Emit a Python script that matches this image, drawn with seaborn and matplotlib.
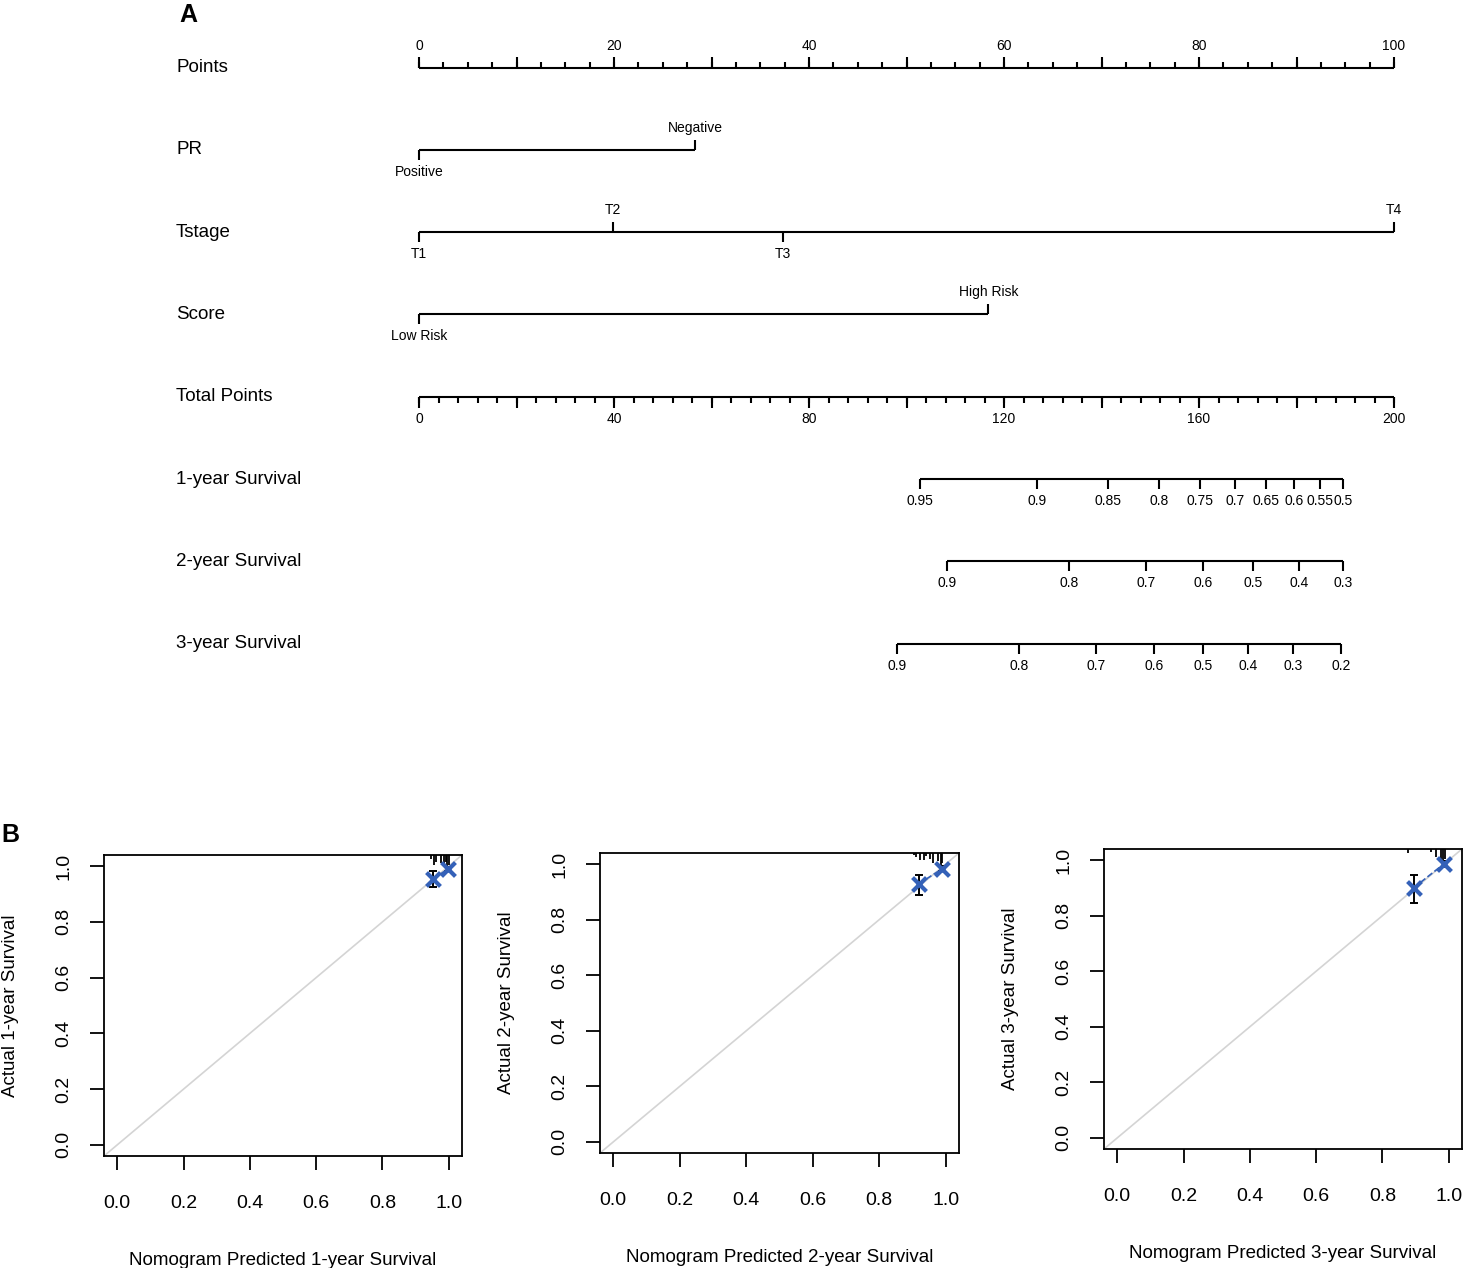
import matplotlib.pyplot as plt
import matplotlib.transforms as mtransforms
import numpy as np
import seaborn as sns

# ---- nomogram scales (values in "points") ----
points_major = np.arange(0, 101, 10)
points_labels = np.arange(0, 101, 20)
points_minor = np.arange(0, 100.1, 2.5)

pr_levels = ["Positive", "Negative"]
pr_points = [0, 28.3]
tstage_levels = ["T1", "T2", "T3", "T4"]
tstage_points = [0, 19.9, 37.3, 100]
score_levels = ["Low Risk", "High Risk"]
score_points = [0, 58.4]

total_major = np.arange(0, 201, 20)
total_labels = np.arange(0, 201, 40)
total_minor = np.arange(0, 200.1, 4)

# survival scales, positions in total points
surv1_labels = ["0.95", "0.9", "0.85", "0.8", "0.75", "0.7", "0.65", "0.6", "0.55", "0.5"]
surv1_total = [102.8, 126.8, 141.3, 151.8, 160.2, 167.4, 173.7, 179.5, 184.8, 189.5]
surv2_labels = ["0.9", "0.8", "0.7", "0.6", "0.5", "0.4", "0.3"]
surv2_total = [108.3, 133.3, 149.1, 160.8, 171.1, 180.5, 189.5]
surv3_labels = ["0.9", "0.8", "0.7", "0.6", "0.5", "0.4", "0.3", "0.2"]
surv3_total = [98.1, 123.1, 138.9, 150.8, 160.8, 170.1, 179.3, 189.1]

# ---- calibration curves ----
years = ["1-year", "2-year", "3-year"]
pred = {"1-year": [0.952, 0.997], "2-year": [0.919, 0.988], "3-year": [0.894, 0.985]}
obs = {"1-year": [0.954, 0.989], "2-year": [0.929, 0.982], "3-year": [0.900, 0.986]}
obs_lo = {"1-year": [0.925, 0.981], "2-year": [0.889, 0.975], "3-year": [0.846, 0.975]}
obs_hi = {"1-year": [0.982, 0.998], "2-year": [0.961, 0.995], "3-year": [0.946, 0.998]}
rug_x = {"1-year": [0.946, 0.956, 0.962, 0.978, 0.986, 0.991, 0.996, 1.0],
         "2-year": [0.904, 0.912, 0.922, 0.934, 0.941, 0.952, 0.962, 0.976, 0.985, 0.99],
         "3-year": [0.876, 0.946, 0.962, 0.978, 0.984, 0.99]}
rug_h = {"1-year": [0.015, 0.035, 0.025, 0.03, 0.04, 0.025, 0.05, 0.035],
         "2-year": [0.008, 0.015, 0.025, 0.025, 0.012, 0.02, 0.035, 0.03, 0.045, 0.035],
         "3-year": [0.015, 0.01, 0.03, 0.035, 0.045, 0.035]}

sns.set_style("white")
plt.rcParams['font.family'] = ['Liberation Sans', 'DejaVu Sans']
plt.rcParams['text.color'] = 'black'
plt.rcParams['axes.labelcolor'] = 'black'
plt.rcParams['xtick.color'] = 'black'
plt.rcParams['ytick.color'] = 'black'

W, H = 1463, 1268
fig = plt.figure(figsize=(W / 100, H / 100), dpi=100)

# ---------------- panel A : nomogram ----------------
top_h = 720
ax = fig.add_axes([0, 1 - top_h / H, 1, top_h / H])
x0_px, ppx = 419, 9.75  # pixel of 0 points, pixels per point
ax.set_xlim(-x0_px / ppx, (W - x0_px) / ppx)
ax.set_ylim(top_h, 0)
ax.axis("off")

lw = 1.5
tick_big, tick_small, lab_off = 11, 6, 22
fs_row, fs_tick = 13.5, 10
row_y = [67.5 + 82.3 * i for i in range(8)]
row_names = ["Points", "PR", "Tstage", "Score", "Total Points",
             "1-year Survival", "2-year Survival", "3-year Survival"]
row_trans = mtransforms.blended_transform_factory(ax.transAxes, ax.transData)
for y, name in zip(row_y, row_names):
    ax.text(176 / W, y, name, transform=row_trans, ha="left", va="center", fontsize=fs_row)

# Points axis (ticks up)
y = row_y[0]
ax.hlines(y, 0, 100, color="black", lw=lw)
ax.vlines(points_minor, y - tick_small, y, color="black", lw=lw)
ax.vlines(points_major, y - tick_big, y, color="black", lw=lw)
for v in points_labels:
    ax.text(v, y - lab_off, str(v), ha="center", va="center", fontsize=fs_tick)


def cat_axis(y, pts, levels):
    ax.hlines(y, min(pts), max(pts), color="black", lw=lw)
    for i, (p, lev) in enumerate(zip(pts, levels)):
        sgn = 1 if i % 2 == 0 else -1
        ax.vlines(p, y, y + sgn * 10, color="black", lw=lw)
        ax.text(p, y + sgn * lab_off, lev, ha="center", va="center", fontsize=fs_tick)


cat_axis(row_y[1], pr_points, pr_levels)
cat_axis(row_y[2], tstage_points, tstage_levels)
cat_axis(row_y[3], score_points, score_levels)

# Total points axis (ticks down), total points -> points scale is /2
y = row_y[4]
ax.hlines(y, 0, 100, color="black", lw=lw)
ax.vlines(total_minor / 2, y, y + tick_small, color="black", lw=lw)
ax.vlines(total_major / 2, y, y + tick_big, color="black", lw=lw)
for v in total_labels:
    ax.text(v / 2, y + lab_off, str(v), ha="center", va="center", fontsize=fs_tick)

for y, tot, labs in zip(row_y[5:], [surv1_total, surv2_total, surv3_total],
                        [surv1_labels, surv2_labels, surv3_labels]):
    xs = np.array(tot) / 2
    ax.hlines(y, xs.min(), xs.max(), color="black", lw=lw)
    ax.vlines(xs, y, y + 10, color="black", lw=lw)
    for xv, lab in zip(xs, labs):
        ax.text(xv, y + lab_off, lab, ha="center", va="center", fontsize=fs_tick)

fig.text(188 / W, 1 - 15 / H, "A", fontsize=18, fontweight="bold", ha="center", va="center")
fig.text(10 / W, 1 - 835 / H, "B", fontsize=18, fontweight="bold", ha="center", va="center")

# ---------------- panel B : calibration ----------------
boxes = [(104, 462, 855, 1156), (600, 959, 853, 1153), (1104, 1462, 849, 1149)]
blue = "#3461B8"
for yr, (l, r, t, b) in zip(years, boxes):
    cax = fig.add_axes([l / W, 1 - b / H, (r - l) / W, (b - t) / H])
    cax.set_xlim(-0.04, 1.04)
    cax.set_ylim(-0.04, 1.04)
    cax.axline((0, 0), (1, 1), color="#d4d4d4", lw=1.2, zorder=1)
    p = np.array(pred[yr])
    o = np.array(obs[yr])
    cax.errorbar(p, o, yerr=[o - np.array(obs_lo[yr]), np.array(obs_hi[yr]) - o],
                 fmt="none", ecolor="black", elinewidth=1.4, capsize=3, capthick=1.4, zorder=3)
    sns.lineplot(x=p, y=o, ax=cax, color=blue, lw=1.2, linestyle="--", zorder=4)
    sns.scatterplot(x=p, y=o, ax=cax, color=blue, marker="x", s=100, linewidth=3, zorder=5)
    cax.vlines(rug_x[yr], 1.04 - np.array(rug_h[yr]), 1.04, color="black", lw=1.3, zorder=3)
    ticks = np.arange(0, 1.01, 0.2)
    cax.set_xticks(ticks)
    cax.set_yticks(ticks)
    cax.set_xticklabels([f"{v:.1f}" for v in ticks])
    cax.set_yticklabels([f"{v:.1f}" for v in ticks], rotation=90, va="center")
    cax.tick_params(axis="x", direction="out", length=10, width=1.3, labelsize=14, pad=18)
    cax.tick_params(axis="y", direction="out", length=10, width=1.3, labelsize=14, pad=13)
    cax.tick_params(bottom=True, left=True)
    for s in cax.spines.values():
        s.set_color("black")
        s.set_linewidth(1.3)
    cax.set_xlabel(f"Nomogram Predicted {yr} Survival", fontsize=13.5, labelpad=29)
    cax.set_ylabel(f"Actual {yr} Survival", fontsize=13.5, labelpad=26)

fig.savefig("out.png", dpi=100)
